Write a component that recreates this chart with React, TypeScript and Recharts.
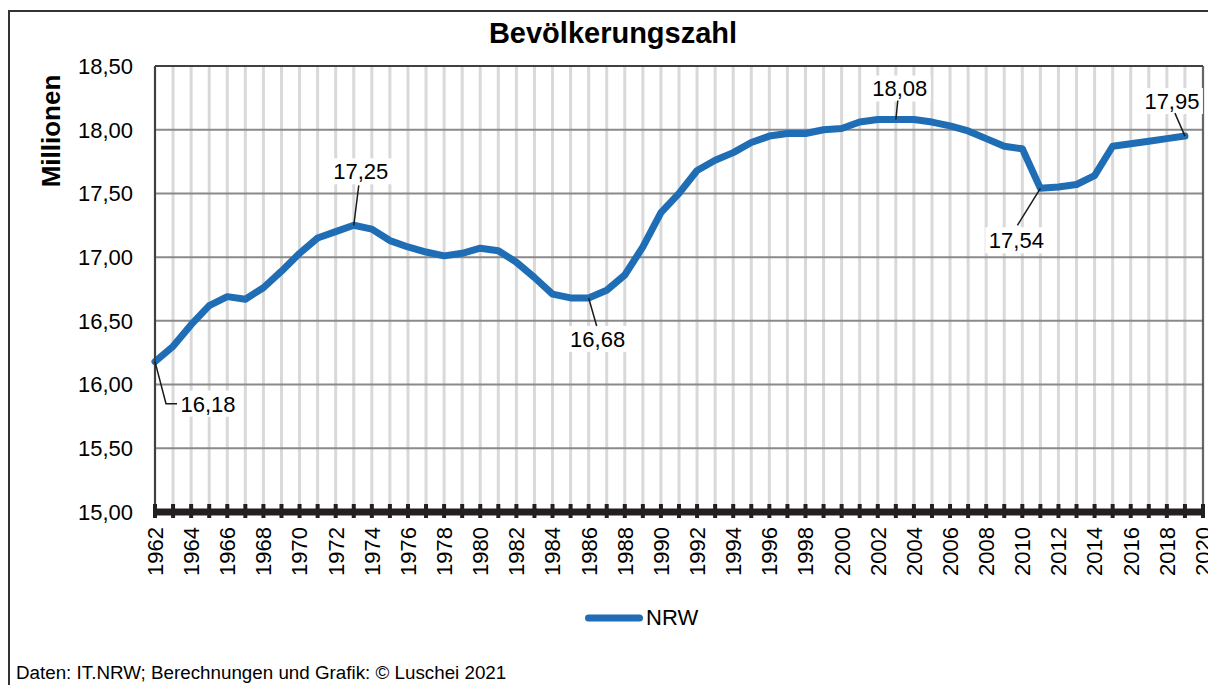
import React from "react";
import {
  LineChart, Line, XAxis, YAxis, CartesianGrid, ReferenceLine, Legend, LabelList,
} from "recharts";

const years = [
  1962, 1963, 1964, 1965, 1966, 1967, 1968, 1969, 1970, 1971,
  1972, 1973, 1974, 1975, 1976, 1977, 1978, 1979, 1980, 1981,
  1982, 1983, 1984, 1985, 1986, 1987, 1988, 1989, 1990, 1991,
  1992, 1993, 1994, 1995, 1996, 1997, 1998, 1999, 2000, 2001,
  2002, 2003, 2004, 2005, 2006, 2007, 2008, 2009, 2010, 2011,
  2012, 2013, 2014, 2015, 2016, 2017, 2018, 2019,
];

const nrw = [
  16.18, 16.30, 16.47, 16.62, 16.69, 16.67, 16.76, 16.89, 17.03, 17.15,
  17.20, 17.25, 17.22, 17.13, 17.08, 17.04, 17.01, 17.03, 17.07, 17.05,
  16.96, 16.84, 16.71, 16.68, 16.68, 16.74, 16.86, 17.08, 17.35, 17.50,
  17.68, 17.76, 17.82, 17.90, 17.95, 17.97, 17.97, 18.00, 18.01, 18.06,
  18.08, 18.08, 18.08, 18.06, 18.03, 17.99, 17.93, 17.87, 17.85, 17.54,
  17.55, 17.57, 17.64, 17.87, 17.89, 17.91, 17.93, 17.95,
];

const xTicks = Array.from({ length: 59 }, (_, i) => 1962 + i);
const yTicks = [15, 15.5, 16, 16.5, 17, 17.5, 18, 18.5];

// years that get a value label
const labelled = [1962, 1973, 1986, 2003, 2011, 2019];

// label placement relative to the point: text centre and leader path (px)
const labelPos: Record<number, { tx: number; ty: number; path: [number, number][] }> = {
  1962: { tx: 53, ty: 42, path: [[0, 0], [11, 42], [22, 42]] },
  1973: { tx: 7, ty: -54, path: [[0, 0], [5, -40]] },
  1986: { tx: 9, ty: 41, path: [[0, 0], [8, 28]] },
  2003: { tx: 4, ty: -31, path: [[0, 0], [2, -19]] },
  2011: { tx: -24, ty: 52, path: [[0, 0], [-23, 37]] },
  2019: { tx: -13, ty: -35, path: [[0, 0], [-10, -23]] },
};

const data = years.map((y, i) => ({ year: y, nrw: nrw[i] }));

const FONT = "'Liberation Sans', Arial, sans-serif";
const fmt = (v: number) => v.toFixed(2).replace(".", ",");

function YearTick(props: any) {
  const { x, y, payload } = props;
  const yr = payload.value as number;
  return (
    <g>
      <line x1={x} x2={x} y1={y - 8} y2={y + 6} stroke="#231f20" strokeWidth={4} />
      {yr % 2 === 0 && (
        <text
          x={x}
          y={y + 15}
          dy="0.36em"
          textAnchor="end"
          transform={`rotate(-90, ${x}, ${y + 15})`}
          fontSize={22}
          fontFamily={FONT}
          fill="#000"
        >
          {yr}
        </text>
      )}
    </g>
  );
}

function ValueLabel(props: any) {
  const { index, value } = props;
  const x = props.x ?? props.viewBox?.x;
  const y = props.y ?? props.viewBox?.y;
  const yr = years[index];
  if (!labelled.includes(yr)) return null;
  const p = labelPos[yr];
  const cx = x + p.tx;
  const cy = y + p.ty;
  const d = p.path.map(([dx, dy], i) => `${i ? "L" : "M"}${x + dx},${y + dy}`).join(" ");
  return (
    <g>
      <rect x={cx - 31} y={cy - 13} width={62} height={26} fill="#fff" />
      <path d={d} stroke="#1a1a1a" strokeWidth={1.5} fill="none" />
      <text x={cx} y={cy} dy="0.36em" textAnchor="middle" fontSize={22} fontFamily={FONT} fill="#000">
        {fmt(value)}
      </text>
    </g>
  );
}

function LegendBox() {
  return (
    <div style={{ display: "flex", alignItems: "center", height: 28, fontFamily: FONT }}>
      <svg width={60} height={28}>
        <line x1={3.5} x2={54.5} y1={14} y2={14} stroke="#1f6db4" strokeWidth={7} strokeLinecap="round" />
      </svg>
      <span style={{ fontSize: 22, color: "#000", marginLeft: 1 }}>NRW</span>
    </div>
  );
}

export default function App() {
  return (
    <div style={{ position: "absolute", left: 0, top: 0, width: 1208, height: 685, background: "#fff", overflow: "hidden" }}>
      <div
        style={{
          position: "absolute", left: 8, top: 10, width: 1220, height: 700,
          borderLeft: "2px solid #333", borderTop: "2px solid #333",
        }}
      />
      <div
        style={{
          position: "absolute", left: 0, top: 19, width: 1226, textAlign: "center",
          fontFamily: FONT, fontWeight: "bold", fontSize: 29, lineHeight: "29px", color: "#000",
        }}
      >
        Bevölkerungszahl
      </div>
      <div
        style={{
          position: "absolute", left: 16, top: 663, fontFamily: FONT, fontSize: 18.8,
          lineHeight: "19px", color: "#000", whiteSpace: "nowrap",
        }}
      >
        Daten: IT.NRW; Berechnungen und Grafik: © Luschei 2021
      </div>
      <div style={{ position: "absolute", left: 0, top: 0 }}>
        <LineChart width={1208} height={685} data={data} margin={{ top: 66, right: 5, bottom: 73, left: 0 }}>
          <CartesianGrid horizontal={false} stroke="#d9d9d9" strokeWidth={3} />
          <CartesianGrid vertical={false} stroke="#8a8a8a" strokeWidth={2} />
          <XAxis
            dataKey="year"
            type="number"
            domain={[1962, 2020]}
            ticks={xTicks}
            interval={0}
            height={100}
            tickSize={0}
            tickMargin={0}
            tickLine={false}
            axisLine={{ stroke: "#231f20", strokeWidth: 7 }}
            tick={<YearTick />}
          />
          <YAxis
            type="number"
            domain={[15, 18.5]}
            ticks={yTicks}
            interval={0}
            width={155}
            tickSize={0}
            tickMargin={22}
            tickLine={false}
            tickFormatter={fmt}
            axisLine={{ stroke: "#404040", strokeWidth: 2 }}
            tick={{ fontSize: 22, fontFamily: FONT, fill: "#000" }}
            label={{
              content: () => (
                <text
                  x={51}
                  y={131}
                  dy="0.36em"
                  textAnchor="middle"
                  transform="rotate(-90, 51, 131)"
                  fontSize={26}
                  fontWeight="bold"
                  fontFamily={FONT}
                  fill="#000"
                >
                  Millionen
                </text>
              ),
            }}
          />
          <ReferenceLine y={18.5} stroke="#404040" strokeWidth={2} />
          <ReferenceLine x={2020} stroke="#404040" strokeWidth={1.5} />
          <Legend
            layout="horizontal"
            verticalAlign="middle"
            align="center"
            wrapperStyle={{ top: 604, left: 585, width: "auto" }}
            content={() => <LegendBox />}
          />
          <Line
            type="linear"
            dataKey="nrw"
            stroke="#1f6db4"
            strokeWidth={7}
            strokeLinejoin="round"
            strokeLinecap="round"
            dot={false}
            activeDot={false}
            isAnimationActive={false}
          >
            <LabelList dataKey="nrw" content={<ValueLabel />} />
          </Line>
        </LineChart>
      </div>
    </div>
  );
}
